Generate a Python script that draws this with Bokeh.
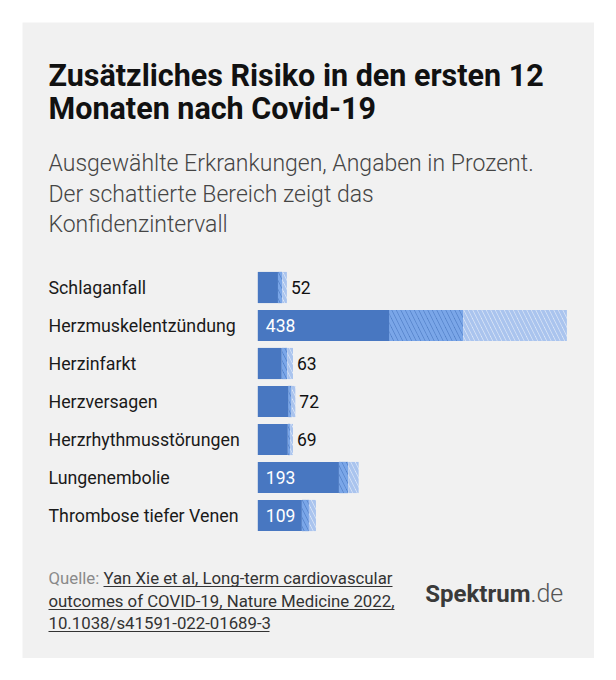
from bokeh.plotting import figure
from bokeh.models import Range1d, ColumnDataSource
from bokeh.embed import file_html
from bokeh.resources import INLINE
from bokeh.core.properties import value

# ---------------- data ----------------
categories = ["Schlaganfall", "Herzmuskelentzündung", "Herzinfarkt", "Herzversagen",
              "Herzrhythmusstörungen", "Lungenembolie", "Thrombose tiefer Venen"]
risk = [52, 438, 63, 72, 69, 193, 109]          # zusätzliches Risiko in %
ci_low = [43, 280, 51, 65, 64, 173, 94]        # untere Grenze Konfidenzintervall
ci_high = [62, 659, 75, 80, 75, 215, 124]      # obere Grenze Konfidenzintervall

title_lines = ["Zusätzliches Risiko in den ersten 12", "Monaten nach Covid-19"]
subtitle_lines = ["Ausgewählte Erkrankungen, Angaben in Prozent.",
                  "Der schattierte Bereich zeigt das", "Konfidenzintervall"]
source_prefix = "Quelle:"
source_lines = ["Yan Xie et al, Long-term cardiovascular",
                "outcomes of COVID-19, Nature Medicine 2022,",
                "10.1038/s41591-022-01689-3"]
logo_main, logo_tld = "Spektrum", ".de"

# ---------------- style ----------------
PANEL = "#f1f1f1"
BLUE = "#4877c1"
STRIPE_DARK = "#7aa6e8"
LIGHT_BG = "#e8eff9"
STRIPE_LIGHT = "#aac4ee"
FONT = "Roboto"
LIGHT_FONT = "Roboto Light"

W, H = 572, 636
ROW_PX = 38          # row pitch in pixels
FIRST_ROW = 265      # y of first row centre (px from panel top)

p = figure(width=W, height=H,
           x_range=Range1d(-501.7, 717.9),
           y_range=Range1d(H, 0),   # pixel layout range for texts (y downwards)
           output_backend="svg", toolbar_location=None,
           x_axis_location=None, y_axis_location=None,
           min_border=0, min_border_left=0, min_border_right=0,
           min_border_top=0, min_border_bottom=0,
           background_fill_color=PANEL, border_fill_color=PANEL,
           outline_line_color=None)
p.margin = (22, 0, 0, 22)
p.grid.visible = False
p.extra_x_ranges = {"px": Range1d(0, W)}
p.extra_y_ranges = {"rows": Range1d((H - FIRST_ROW) / ROW_PX, -FIRST_ROW / ROW_PX)}

row = list(range(len(categories)))
src = ColumnDataSource(dict(cat=categories, row=row, risk=risk, lo=ci_low, hi=ci_high,
                            zero=[0] * len(categories)))

BAR_H = 0.82
p.hbar(y="row", left="zero", right="lo", height=BAR_H, source=src, y_range_name="rows",
       fill_color=BLUE, line_color=None)
p.hbar(y="row", left="lo", right="risk", height=BAR_H, source=src, y_range_name="rows",
       fill_color=BLUE, line_color=None,
       hatch_pattern="\\", hatch_color=STRIPE_DARK, hatch_weight=3.5, hatch_scale=9)
p.hbar(y="row", left="risk", right="hi", height=BAR_H, source=src, y_range_name="rows",
       fill_color=LIGHT_BG, line_color=None,
       hatch_pattern="\\", hatch_color=STRIPE_LIGHT, hatch_weight=3.5, hatch_scale=9)

# category labels
p.text(x=value(26), y="row", text="cat", source=src,
       x_range_name="px", y_range_name="rows",
       text_font=value(FONT), text_font_size="17.8px", text_color="#1a1a1a",
       text_baseline="middle", text_align="left")

inside = [r >= 100 for r in risk]
in_src = ColumnDataSource(dict(
    row=[r for r, i in zip(row, inside) if i],
    x=[0 for i in inside if i],
    t=[str(v) for v, i in zip(risk, inside) if i]))
out_src = ColumnDataSource(dict(
    row=[r for r, i in zip(row, inside) if not i],
    x=[h for h, i in zip(ci_high, inside) if not i],
    t=[str(v) for v, i in zip(risk, inside) if not i]))
p.text(x="x", y="row", text="t", source=in_src, x_offset=8, y_range_name="rows",
       text_font=value(FONT), text_font_size="17.5px", text_color="white",
       text_baseline="middle", text_align="left")
p.text(x="x", y="row", text="t", source=out_src, x_offset=4, y_range_name="rows",
       text_font=value(FONT), text_font_size="17.5px", text_color="#111111",
       text_baseline="middle", text_align="left")


def lab(text, px, py, size, color, style="normal", font=FONT, align="left"):
    p.text(x=[px], y=[py], text=[text], x_range_name="px",
           text_font=value(font), text_font_size=size, text_font_style=style,
           text_color=color, text_baseline="middle", text_align=align)


for i, t in enumerate(title_lines):
    lab(t, 26, 53 + i * 33, "30.5px", "#111111", "bold")
for i, t in enumerate(subtitle_lines):
    lab(t, 26, 141 + i * 30.5, "23px", "#454545", "normal", LIGHT_FONT)

SRC_Y = [555, 578, 600]
lab(source_prefix, 26, SRC_Y[0], "16.8px", "#8a8a8a")
lab(source_lines[0], 81, SRC_Y[0], "16.8px", "#333333")
lab(source_lines[1], 26, SRC_Y[1], "16.8px", "#333333")
lab(source_lines[2], 26, SRC_Y[2], "16.8px", "#333333")

# underlines of the link text
UL = [y + 9 for y in SRC_Y]
p.segment(x0=[81, 26, 26], x1=[370, 372, 247], y0=UL, y1=UL,
          x_range_name="px", line_color="#333333", line_width=1)

lab(logo_main, 508, 571, "24px", "#3a3a3a", "bold", FONT, "right")
lab(logo_tld, 508, 571, "25px", "#555555", "normal", LIGHT_FONT, "left")

open("out.html", "w").write(file_html(p, INLINE))
